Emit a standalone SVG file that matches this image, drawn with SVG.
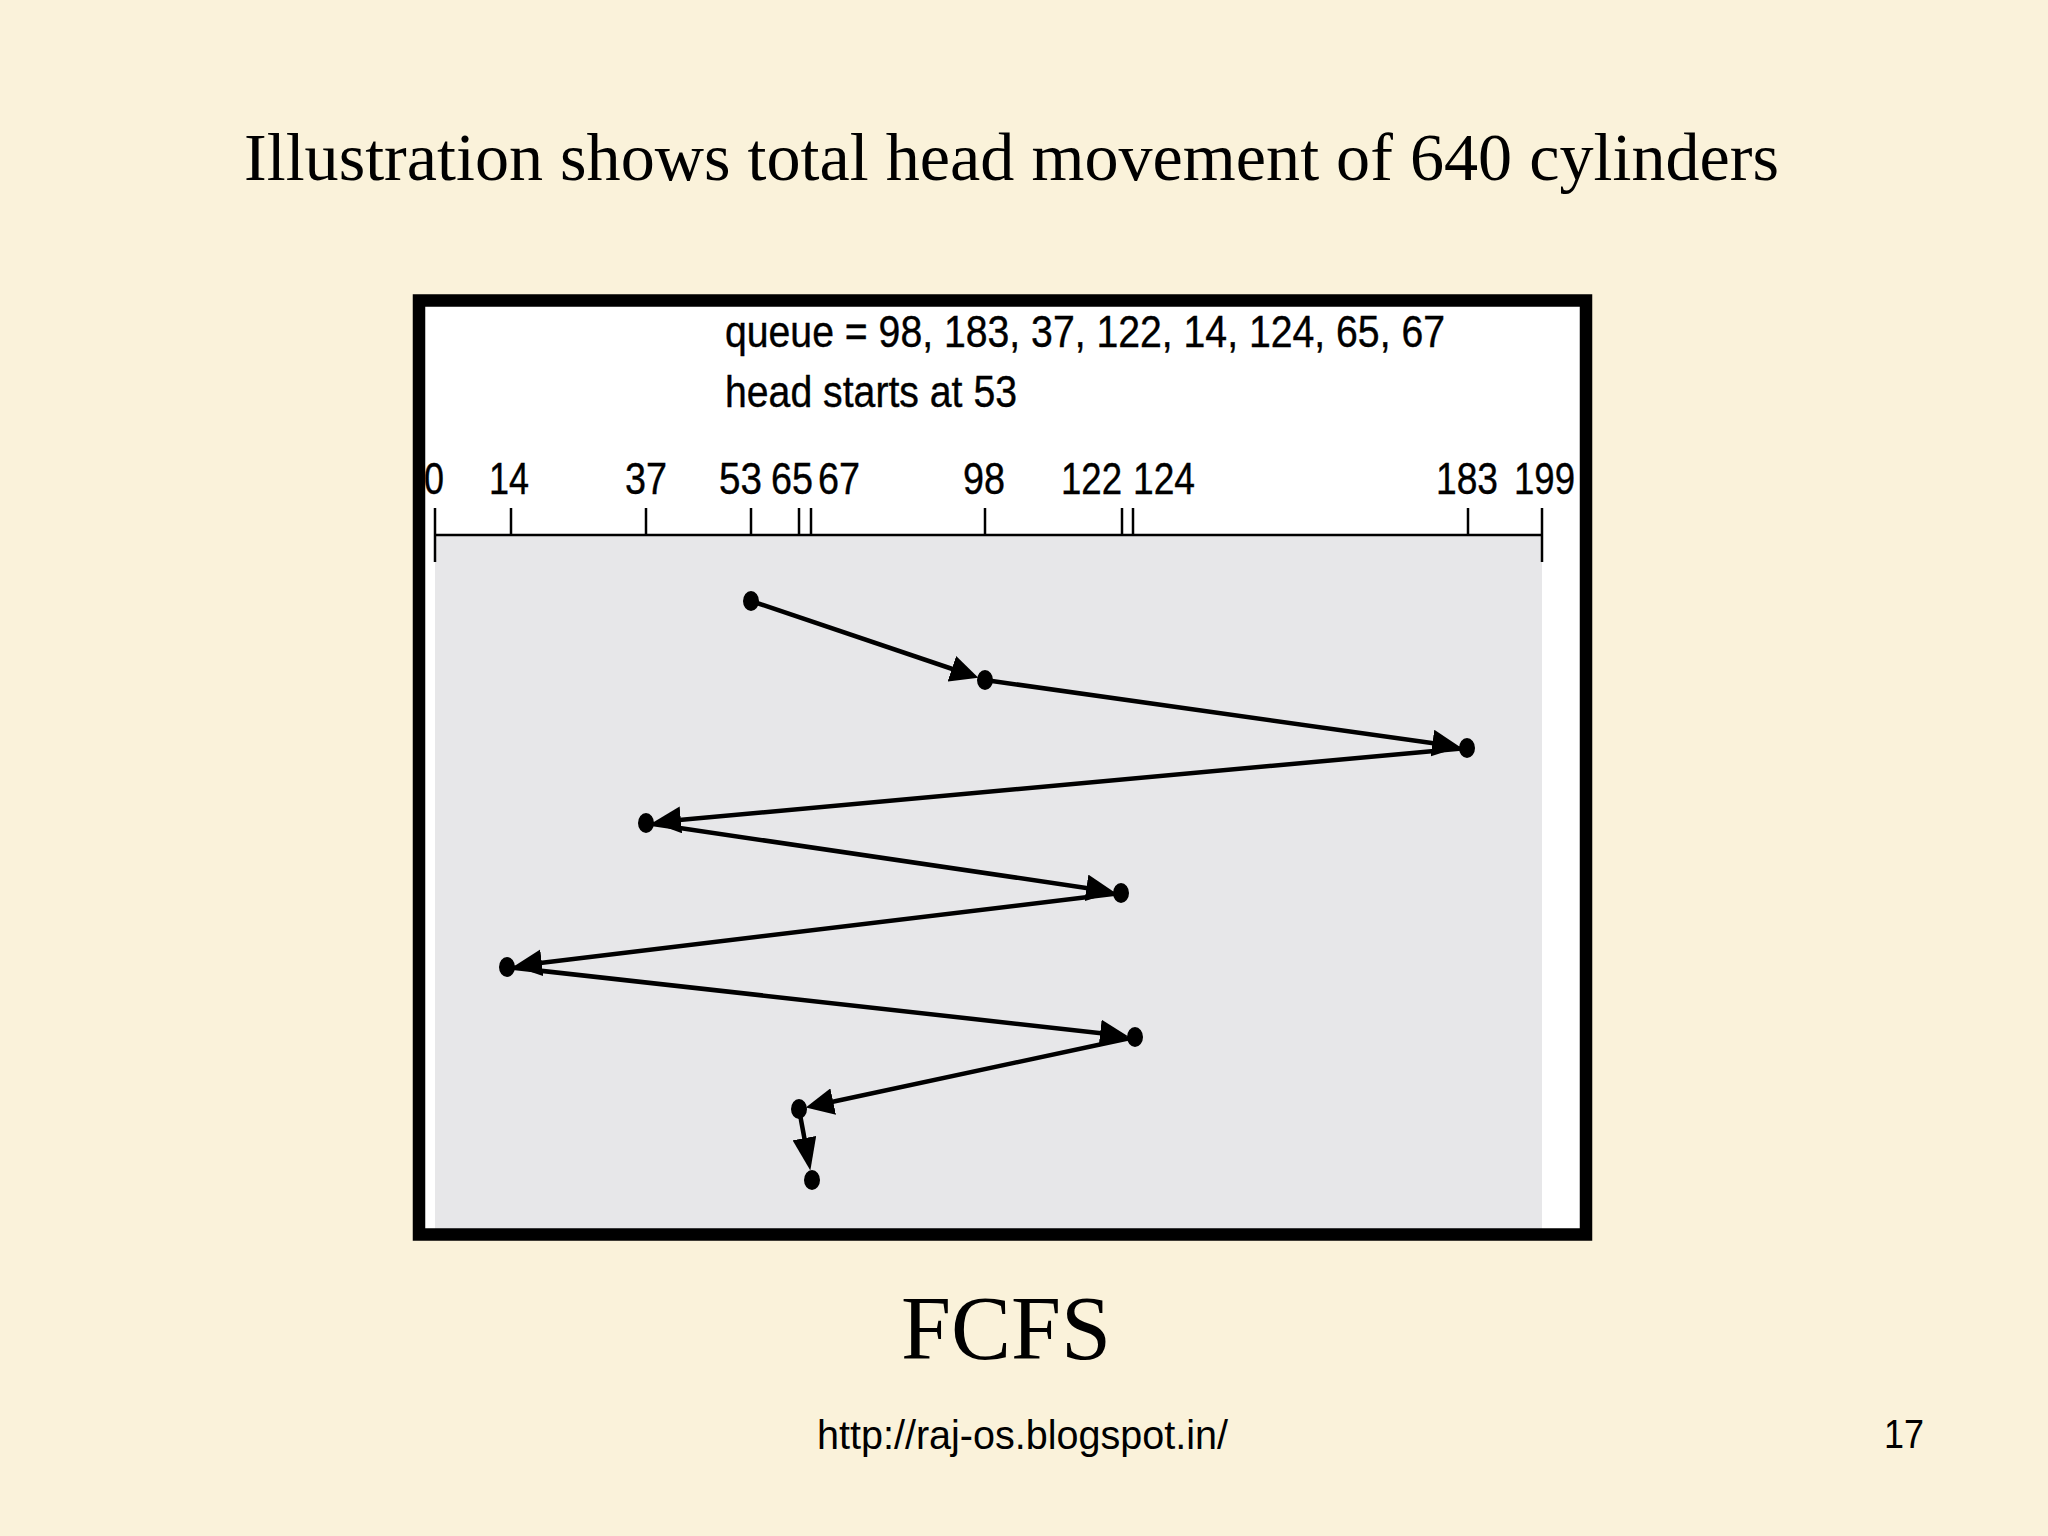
<svg xmlns="http://www.w3.org/2000/svg" width="2048" height="1536" viewBox="0 0 2048 1536">
<style>
.serif{font-family:"Liberation Serif","Times New Roman",serif;fill:#000}
.sans{font-family:"Liberation Sans",Arial,sans-serif;fill:#000}
.lbl{font-family:"Liberation Sans",Arial,sans-serif;font-size:44px;fill:#000;stroke:#000;stroke-width:0.4}
.tick{stroke:#000;stroke-width:2.5;fill:none}
.conn{stroke:#000;stroke-width:4.5;fill:none}
.dot{fill:#000}
</style>
<defs>
<marker id="ah" markerUnits="userSpaceOnUse" viewBox="0 0 28 27" refX="10" refY="13.5" markerWidth="28" markerHeight="27" orient="auto">
<path d="M0,0 L28,13.5 L0,27 Z" fill="#000"/>
</marker>
<marker id="ah2" markerUnits="userSpaceOnUse" viewBox="0 0 33 24" refX="9" refY="12" markerWidth="33" markerHeight="24" orient="auto">
<path d="M0,0 L33,12 L0,24 Z" fill="#000"/>
</marker>
</defs>
<rect width="2048" height="1536" fill="#faf2da"/>
<text class="serif" x="244" y="180" font-size="68" textLength="1535" lengthAdjust="spacingAndGlyphs">Illustration shows total head movement of 640 cylinders</text>
<g id="figure">
<rect x="419" y="300.5" width="1167" height="934" fill="#fff"/>
<rect x="435" y="535" width="1107" height="694" fill="#e7e7e9"/>
<text class="lbl" x="725" y="347" textLength="720" lengthAdjust="spacingAndGlyphs">queue = 98, 183, 37, 122, 14, 124, 65, 67</text>
<text class="lbl" x="725" y="407" textLength="292" lengthAdjust="spacingAndGlyphs">head starts at 53</text>
<g id="axis">
<line class="tick" x1="434" y1="535" x2="1542" y2="535" stroke-width="3"/>
<line class="tick" x1="435" y1="508" x2="435" y2="562"/>
<line class="tick" x1="511" y1="508" x2="511" y2="535"/>
<line class="tick" x1="646" y1="508" x2="646" y2="535"/>
<line class="tick" x1="751" y1="508" x2="751" y2="535"/>
<line class="tick" x1="799" y1="508" x2="799" y2="535"/>
<line class="tick" x1="811" y1="508" x2="811" y2="535"/>
<line class="tick" x1="985" y1="508" x2="985" y2="535"/>
<line class="tick" x1="1122" y1="508" x2="1122" y2="535"/>
<line class="tick" x1="1133" y1="508" x2="1133" y2="535"/>
<line class="tick" x1="1468" y1="508" x2="1468" y2="535"/>
<line class="tick" x1="1542" y1="508" x2="1542" y2="562"/>
<text class="lbl" x="424" y="494" textLength="20" lengthAdjust="spacingAndGlyphs">0</text>
<text class="lbl" x="489" y="494" textLength="40" lengthAdjust="spacingAndGlyphs">14</text>
<text class="lbl" x="625" y="494" textLength="42" lengthAdjust="spacingAndGlyphs">37</text>
<text class="lbl" x="719" y="494" textLength="43" lengthAdjust="spacingAndGlyphs">53</text>
<text class="lbl" x="771" y="494" textLength="42" lengthAdjust="spacingAndGlyphs">65</text>
<text class="lbl" x="818" y="494" textLength="42" lengthAdjust="spacingAndGlyphs">67</text>
<text class="lbl" x="963" y="494" textLength="42" lengthAdjust="spacingAndGlyphs">98</text>
<text class="lbl" x="1061" y="494" textLength="61" lengthAdjust="spacingAndGlyphs">122</text>
<text class="lbl" x="1133" y="494" textLength="62" lengthAdjust="spacingAndGlyphs">124</text>
<text class="lbl" x="1436" y="494" textLength="62" lengthAdjust="spacingAndGlyphs">183</text>
<text class="lbl" x="1514" y="494" textLength="61" lengthAdjust="spacingAndGlyphs">199</text>
</g>
<g id="connectors">
<line class="conn" x1="751" y1="601" x2="961.3" y2="672" marker-end="url(#ah)"/>
<line class="conn" x1="985" y1="680" x2="1442.3" y2="744.5" marker-end="url(#ah)"/>
<line class="conn" x1="1467" y1="748" x2="670.9" y2="820.8" marker-end="url(#ah)"/>
<line class="conn" x1="646" y1="823" x2="1096.3" y2="889.4" marker-end="url(#ah)"/>
<line class="conn" x1="1121" y1="893" x2="531.9" y2="964" marker-end="url(#ah)"/>
<line class="conn" x1="507" y1="967" x2="1110.1" y2="1034.2" marker-end="url(#ah)"/>
<line class="conn" x1="1135" y1="1037" x2="823.4" y2="1103.7" marker-end="url(#ah)"/>
<line class="conn" x1="799" y1="1109" x2="806" y2="1147" stroke-width="3" marker-end="url(#ah2)"/>
</g>
<g id="n53"><ellipse class="dot" cx="751" cy="601" rx="8" ry="10"/></g>
<g id="n98"><ellipse class="dot" cx="985" cy="680" rx="8" ry="10"/></g>
<g id="n183"><ellipse class="dot" cx="1467" cy="748" rx="8" ry="10"/></g>
<g id="n37"><ellipse class="dot" cx="646" cy="823" rx="8" ry="10"/></g>
<g id="n122"><ellipse class="dot" cx="1121" cy="893" rx="8" ry="10"/></g>
<g id="n14"><ellipse class="dot" cx="507" cy="967" rx="8" ry="10"/></g>
<g id="n124"><ellipse class="dot" cx="1135" cy="1037" rx="8" ry="10"/></g>
<g id="n65"><ellipse class="dot" cx="799" cy="1109" rx="8" ry="10"/></g>
<g id="n67"><ellipse class="dot" cx="812" cy="1180" rx="8" ry="10"/></g>
<rect x="419" y="300.5" width="1167" height="934" fill="none" stroke="#000" stroke-width="12.5"/>
</g>
<text class="serif" x="1006" y="1359" font-size="90" text-anchor="middle">FCFS</text>
<text class="sans" x="817" y="1449" font-size="40" textLength="411" lengthAdjust="spacingAndGlyphs">http://raj-os.blogspot.in/</text>
<text class="sans" x="1924" y="1448" font-size="40" text-anchor="end" textLength="40" lengthAdjust="spacingAndGlyphs">17</text>
</svg>
